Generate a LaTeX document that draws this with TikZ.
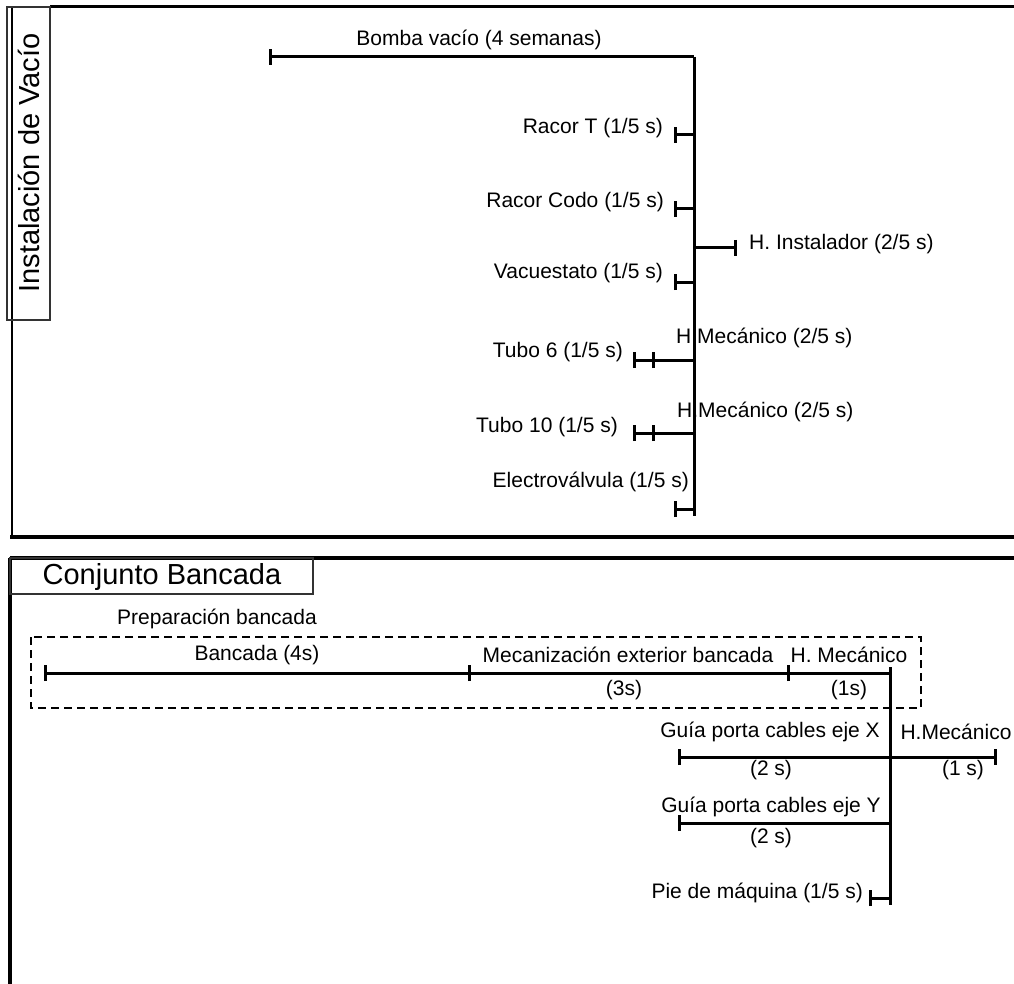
\documentclass[tikz,border=0pt]{standalone}
\usepackage{fontspec}
\setmainfont{Liberation Sans}
\usetikzlibrary{arrows.meta, positioning}

\tikzset{
  lbl/.style={font=\fontsize{21}{25}\selectfont, inner sep=0pt},
  headtxt/.style={font=\fontsize{29}{34}\selectfont, inner sep=0pt},
  task/.style={line width=3pt},
  bartick/.style={{Bar[width=16pt]}-},
  frameline/.style={line width=3.5pt},
  headbox/.style={draw=black!80, line width=1.5pt},
}

\begin{document}
\begin{tikzpicture}[x=1pt, y=-1pt]
    \useasboundingbox (0,0) rectangle (1014,984) ;

    % -- instalacion de vacio
    \draw [line width=3pt] (50,7) -- (1030,7) ;
    \draw [line width=2pt] (12,7) -- (12,537) ;
    \draw [frameline] (10,537) -- (1030,537) ;
    \draw [headbox] (7,7) rectangle (50,320) ;
    \node [headtxt, rotate=90] (vacio) at (29,163) {Instalación de Vacío} ;

    \coordinate (vtop)   at (694, 57) ;
    \coordinate (vbot)   at (694,516) ;
    \coordinate (bomba)  at (269, 57) ;
    \coordinate (racT)   at (674,135) ;
    \coordinate (racTs)  at (694,135) ;
    \coordinate (racC)   at (674,209) ;
    \coordinate (racCs)  at (694,209) ;
    \coordinate (instS)  at (694,248) ;
    \coordinate (inst)   at (737,248) ;
    \coordinate (vacu)   at (674,282) ;
    \coordinate (vacuS)  at (694,282) ;
    \coordinate (tubA)   at (633,360) ;
    \coordinate (tubAm)  at (652,360) ;
    \coordinate (tubAs)  at (694,360) ;
    \coordinate (tubB)   at (633,433) ;
    \coordinate (tubBm)  at (652,433) ;
    \coordinate (tubBs)  at (694,433) ;
    \coordinate (elec)   at (674,509) ;
    \coordinate (elecS)  at (694,509) ;

    \begin{scope}[task]
      \draw (vtop) -- (vbot) ;
      \begin{scope}[bartick]
        \draw (bomba) -- (vtop) ;
        \draw (racT)  -- (racTs) ;
        \draw (racC)  -- (racCs) ;
        \draw (inst)  -- (instS) ;
        \draw (vacu)  -- (vacuS) ;
        \draw (tubA)  -- (tubAs) ;
        \draw (tubAm) -- (tubAs) ;
        \draw (tubB)  -- (tubBs) ;
        \draw (tubBm) -- (tubBs) ;
        \draw (elec)  -- (elecS) ;
      \end{scope}
    \end{scope}

    \begin{scope}[every node/.style={lbl}]
      \node (tBomba) at (479, 40) {Bomba vacío (4 semanas)} ;
      \node (tRacT)  at (663,128) [anchor=east] {Racor T (1/5 s)} ;
      \node (tRacC)  at (664,202) [anchor=east] {Racor Codo (1/5 s)} ;
      \node (tVacu)  at (663,273) [anchor=east] {Vacuestato (1/5 s)} ;
      \node (tInst)  at (749,244) [anchor=west] {H. Instalador (2/5 s)} ;
      \node (tTubA)  at (623,352) [anchor=east] {Tubo 6 (1/5 s)} ;
      \node (tMecA)  at (676,338) [anchor=west] {H.Mecánico (2/5 s)} ;
      \node (tTubB)  at (618,427) [anchor=east] {Tubo 10 (1/5 s)} ;
      \node (tMecB)  at (677,412) [anchor=west] {H.Mecánico (2/5 s)} ;
      \node (tElec)  at (689,482) [anchor=east] {Electroválvula (1/5 s)} ;
    \end{scope}

    % -- conjunto bancada
    \draw [frameline] (10,558) -- (1030,558) ;
    \draw [frameline] (10,558) -- (10,990) ;
    \draw [headbox] (10,558) rectangle (313,594) ;
    \node [headtxt] (bancada) at (162,577) {Conjunto Bancada} ;

    \node [lbl] (prep) at (217,619) {Preparación bancada} ;
    \draw [line width=1.5pt, dash pattern=on 8pt off 5pt] (31,637) rectangle (921,708) ;

    \coordinate (btop)   at (890,667) ;
    \coordinate (bbot)   at (890,905) ;
    \coordinate (banA)   at ( 44,673) ;
    \coordinate (banB)   at (468,673) ;
    \coordinate (banC)   at (787,673) ;
    \coordinate (banS)   at (890,673) ;
    \coordinate (guiX)   at (678,757) ;
    \coordinate (guiXs)  at (890,757) ;
    \coordinate (mecX)   at (997,757) ;
    \coordinate (guiY)   at (678,823) ;
    \coordinate (guiYs)  at (890,823) ;
    \coordinate (pie)    at (869,898) ;
    \coordinate (pieS)   at (890,898) ;

    \begin{scope}[task]
      \draw (btop) -- (bbot) ;
      \begin{scope}[bartick]
        \draw (banA) -- (banB) ;
        \draw (banB) -- (banC) ;
        \draw (banC) -- (banS) ;
        \draw (guiX) -- (guiXs) ;
        \draw (mecX) -- (guiXs) ;
        \draw (guiY) -- (guiYs) ;
        \draw (pie)  -- (pieS) ;
      \end{scope}
    \end{scope}

    \begin{scope}[every node/.style={lbl}]
      \node (tBan)   at (257,655) {Bancada (4s)} ;
      \node (tMecz)  at (628,655) {Mecanización exterior bancada} ;
      \node (tMecz2) at (624,690) {(3s)} ;
      \node (tHm)    at (849,655) {H. Mecánico} ;
      \node (tHm2)   at (849,690) {(1s)} ;
      \node (tGuiX)  at (770,732) {Guía porta cables eje X} ;
      \node (tGuiX2) at (771,770) {(2 s)} ;
      \node (tMecX)  at (956,732) {H.Mecánico} ;
      \node (tMecX2) at (963,770) {(1 s)} ;
      \node (tGuiY)  at (771,807) {Guía porta cables eje Y} ;
      \node (tGuiY2) at (771,838) {(2 s)} ;
      \node (tPie)   at (863,893) [anchor=east] {Pie de máquina (1/5 s)} ;
    \end{scope}
\end{tikzpicture}
\end{document}
